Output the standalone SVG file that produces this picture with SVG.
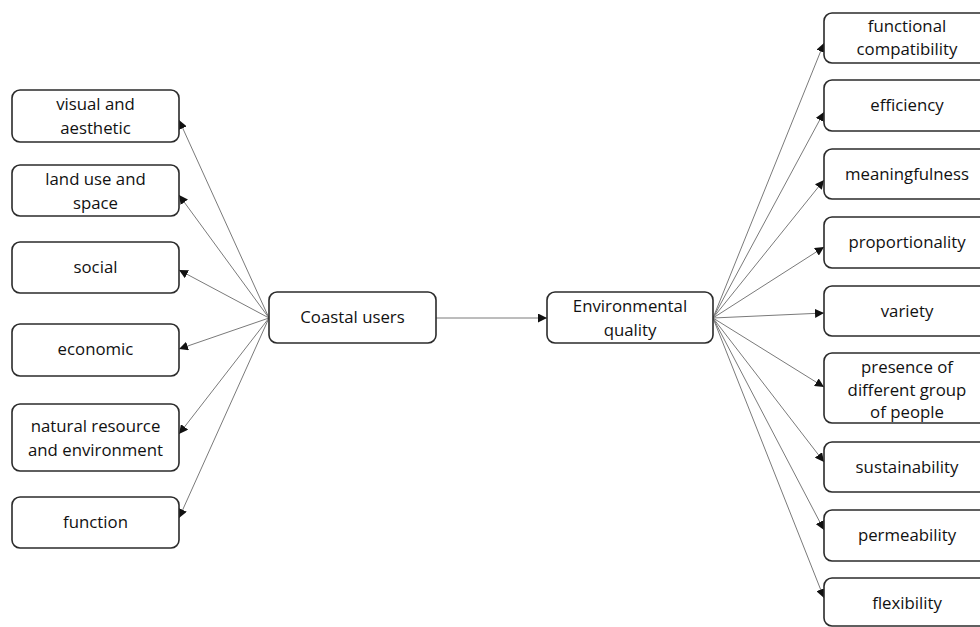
<svg xmlns="http://www.w3.org/2000/svg" width="980" height="627" viewBox="0 0 980 627">
<style>
.box{fill:#fff;stroke:#2b2b2b;stroke-width:1.6}
.t{font-family:"Open Sans","Liberation Sans",sans-serif;font-size:16.8px;fill:#111;text-anchor:middle}
.c{stroke:#7a7a7a;stroke-width:1;fill:none;marker-end:url(#ah)}
</style>
<defs>
<marker id="ah" viewBox="0 0 10 10" refX="10" refY="5" markerWidth="9" markerHeight="9" markerUnits="userSpaceOnUse" orient="auto">
<path d="M0,0 L10,5 L0,10 z" fill="#111"/>
</marker>
</defs>
<rect width="980" height="627" fill="#fff"/>
<g id="connectors">
<line class="c" x1="436" y1="318" x2="547" y2="318"/>
<line class="c" x1="269" y1="318" x2="179" y2="120"/>
<line class="c" x1="269" y1="318" x2="179" y2="195"/>
<line class="c" x1="269" y1="318" x2="179" y2="270"/>
<line class="c" x1="269" y1="318" x2="179" y2="349"/>
<line class="c" x1="269" y1="318" x2="179" y2="434"/>
<line class="c" x1="269" y1="318" x2="179" y2="518"/>
<line class="c" x1="713" y1="318" x2="824" y2="43"/>
<line class="c" x1="713" y1="318" x2="824" y2="112"/>
<line class="c" x1="713" y1="318" x2="824" y2="180"/>
<line class="c" x1="713" y1="318" x2="824" y2="247"/>
<line class="c" x1="713" y1="318" x2="824" y2="313"/>
<line class="c" x1="713" y1="318" x2="824" y2="387"/>
<line class="c" x1="713" y1="318" x2="824" y2="462"/>
<line class="c" x1="713" y1="318" x2="824" y2="530"/>
<line class="c" x1="713" y1="318" x2="824" y2="598"/>
</g>
<g id="coastal-users"><rect class="box" x="269" y="292" width="167" height="51" rx="8"/><text class="t" x="352.5" y="323">Coastal users</text></g>
<g id="environmental-quality"><rect class="box" x="547" y="292" width="166" height="51" rx="8"/><text class="t" x="630" y="312">Environmental</text><text class="t" x="630" y="336">quality</text></g>
<g id="visual"><rect class="box" x="12" y="90" width="167" height="52" rx="8"/><text class="t" x="95.5" y="110">visual and</text><text class="t" x="95.5" y="134">aesthetic</text></g>
<g id="land-use"><rect class="box" x="12" y="165" width="167" height="51" rx="8"/><text class="t" x="95.5" y="185">land use and</text><text class="t" x="95.5" y="209">space</text></g>
<g id="social"><rect class="box" x="12" y="242" width="167" height="51" rx="8"/><text class="t" x="95.5" y="273">social</text></g>
<g id="economic"><rect class="box" x="12" y="324" width="167" height="52" rx="8"/><text class="t" x="95.5" y="355">economic</text></g>
<g id="natural"><rect class="box" x="12" y="404" width="167" height="67" rx="8"/><text class="t" x="95.5" y="432">natural resource</text><text class="t" x="95.5" y="456">and environment</text></g>
<g id="function"><rect class="box" x="12" y="497" width="167" height="51" rx="8"/><text class="t" x="95.5" y="528">function</text></g>
<g id="functional-compatibility"><rect class="box" x="824" y="13" width="166" height="50" rx="8"/><text class="t" x="907" y="32">functional</text><text class="t" x="907" y="55">compatibility</text></g>
<g id="efficiency"><rect class="box" x="824" y="80" width="166" height="51" rx="8"/><text class="t" x="907" y="111">efficiency</text></g>
<g id="meaningfulness"><rect class="box" x="824" y="149" width="166" height="50" rx="8"/><text class="t" x="907" y="180">meaningfulness</text></g>
<g id="proportionality"><rect class="box" x="824" y="217" width="166" height="51" rx="8"/><text class="t" x="907" y="248">proportionality</text></g>
<g id="variety"><rect class="box" x="824" y="286" width="166" height="50" rx="8"/><text class="t" x="907" y="317">variety</text></g>
<g id="presence"><rect class="box" x="824" y="353" width="166" height="70" rx="8"/><text class="t" x="907" y="373">presence of</text><text class="t" x="907" y="396">different group</text><text class="t" x="907" y="418">of people</text></g>
<g id="sustainability"><rect class="box" x="824" y="442" width="166" height="50" rx="8"/><text class="t" x="907" y="473">sustainability</text></g>
<g id="permeability"><rect class="box" x="824" y="510" width="166" height="51" rx="8"/><text class="t" x="907" y="541">permeability</text></g>
<g id="flexibility"><rect class="box" x="824" y="578" width="166" height="48" rx="8"/><text class="t" x="907" y="609">flexibility</text></g>
</svg>
